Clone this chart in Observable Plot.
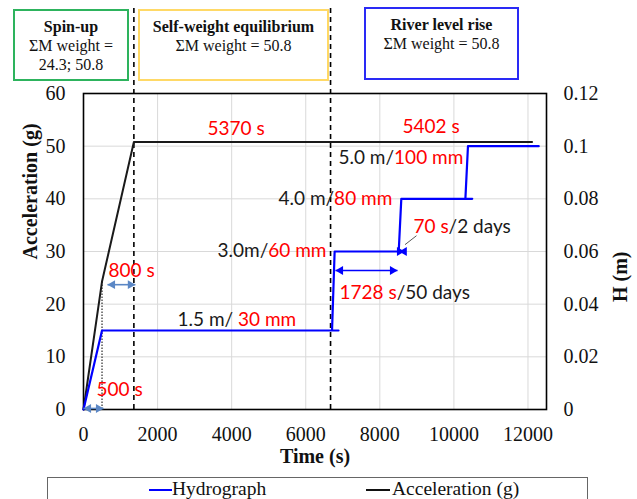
<!DOCTYPE html>
<html><head><meta charset="utf-8">
<script src="https://cdn.jsdelivr.net/npm/d3@7"></script>
<script src="https://cdn.jsdelivr.net/npm/@observablehq/plot@0.6"></script>
<style>
body{margin:0;background:#fff;}
#wrap{position:relative;width:637px;height:499px;overflow:hidden;font-family:"Liberation Serif","Times New Roman",serif;background:#fff;}
.box{position:absolute;box-sizing:border-box;text-align:center;font-size:16px;line-height:19px;padding-top:6px;color:#111;background:transparent;}
.box b{display:block;}
#legend{position:absolute;left:47px;top:477px;width:541px;height:40px;border:1px solid #666;box-sizing:border-box;font-size:19.5px;color:#111;}
.sw{position:absolute;top:11px;height:2px;}
.lt{position:absolute;top:0;line-height:22px;}
</style>
</head><body>
<div id="wrap">
  <div id="chart"></div>
  <div class="box" style="left:13px;top:9px;width:116px;height:72px;border:2px solid #2db35d;"><b>Spin-up</b>ΣM weight =<br>24.3; 50.8</div>
  <div class="box" style="left:138px;top:9px;width:191px;height:72px;border:2px solid #ffd966;"><b>Self-weight equilibrium</b>ΣM weight = 50.8</div>
  <div class="box" style="left:364px;top:7px;width:155px;height:73px;border:2px solid #2a2af5;"><b>River level rise</b>ΣM weight = 50.8</div>
  <div id="legend">
    <div class="sw" style="left:101px;width:23px;background:#0000ff;"></div>
    <div class="lt" style="left:124px;">Hydrograph</div>
    <div class="sw" style="left:318px;width:24px;background:#111;"></div>
    <div class="lt" style="left:344px;">Acceleration (g)</div>
  </div>
</div>
<script>
// ---- data ----
const accTime = [0, 500, 1360, 12110];
const accG    = [0, 24.3, 50.8, 50.8];
const hydTime = [0, 500, 6885, 6710, 6780, 8510, 8580, 10495, 10310, 10380, 12290];
const hydH    = [0, 0.03, 0.03, 0.03, 0.06, 0.06, 0.08, 0.08, 0.08, 0.1, 0.1];
const xTicks  = [0, 2000, 4000, 6000, 8000, 10000, 12000];
const yTicks  = [0, 10, 20, 30, 40, 50, 60];
const hTicks  = [0, 0.02, 0.04, 0.06, 0.08, 0.1, 0.12];
const phaseTimes = [1360, 6670];
const spinKink = {t: 500, g: 24.3};

// annotations (anchor in data units: time, acceleration-axis value)
const annotations = [
  {t: 3348, v: 53.35, parts: [["5370 s", "#ff0000"]]},
  {t: 8612, v: 53.7,  parts: [["5402 s", "#ff0000"]]},
  {t: 6884, v: 47.85, parts: [["5.0 m/", "#1a1a1a"], ["100 mm", "#ff0000"]]},
  {t: 5265, v: 40.06, parts: [["4.0 m/", "#1a1a1a"], ["80 mm", "#ff0000"]]},
  {t: 3618, v: 30.19, parts: [["3.0m/", "#1a1a1a"], ["60 mm", "#ff0000"]]},
  {t: 8909, v: 34.75, parts: [["70 s", "#ff0000"], ["/2 days", "#1a1a1a"]]},
  {t: 6911, v: 22.2,  parts: [["1728 s", "#ff0000"], ["/50 days", "#1a1a1a"]]},
  {t: 2538, v: 17.09, parts: [["1.5 m/ ", "#1a1a1a"], ["30 mm", "#ff0000"]]},
  {t: 675,  v: 26.4,  parts: [["800 s", "#ff0000"]]},
  {t: 351,  v: 3.8,   parts: [["500 s", "#ff0000"]]}
];
const arrows = [
  {x1: 0,    x2: 540,  v: 0.2,  color: "#5b87c5"},
  {x1: 648,  x2: 1400, v: 23.7, color: "#5b87c5"},
  {x1: 6803, x2: 8477, v: 26.4, color: "#0000ff"}
];
const stepHeads = [{t: 8531, v: 30, dir: 90}, {t: 8660, v: 30, dir: -90}];
const leader = [{x1: 8680, y1: 31.3, x2: 8990, y2: 33}];
const phaseTop = 76.7;

// ---- build ----
const hFactor = 60 / 0.12;
const acc = accTime.map((t, i) => ({t, g: accG[i]}));
const hyd = hydTime.map((t, i) => ({t, h: hydH[i]}));

const annFont = "19px Lato";
const ctx = document.createElement("canvas").getContext("2d");
ctx.font = annFont;
const annMarks = [];
annotations.forEach(a => {
  let off = 0;
  a.parts.forEach(([txt, col]) => {
    annMarks.push(Plot.text([a], {x: "t", y: "v", text: () => txt, fill: col, textAnchor: "start",
      dx: off, fontFamily: "Lato", fontSize: 19}));
    off += ctx.measureText(txt).width;
  });
});

const serif = '"Liberation Serif", "Times New Roman", serif';
const chart = Plot.plot({
  width: 637, height: 477,
  marginLeft: 83, marginRight: 91, marginTop: 93, marginBottom: 68,
  style: {fontFamily: serif, fontSize: "20px", color: "#111", background: "#fff", overflow: "visible"},
  x: {domain: [0, 12500]},
  y: {domain: [0, 60]},
  marks: [
    Plot.gridX(xTicks, {stroke: "#d9d9d9", strokeOpacity: 1}),
    Plot.gridY(yTicks, {stroke: "#d9d9d9", strokeOpacity: 1}),
    Plot.axisX(xTicks, {tickSize: 0, tickPadding: 17, label: null, fontSize: 20, tickFormat: d => String(d)}),
    Plot.axisY(yTicks, {anchor: "left", tickSize: 0, tickPadding: 18, label: null, fontSize: 20, tickFormat: d => String(d)}),
    Plot.axisY(yTicks, {anchor: "right", tickSize: 0, tickPadding: 17, label: null, fontSize: 20,
      tickFormat: d => String(hTicks[yTicks.indexOf(d)])}),
    Plot.frame({stroke: "#000", strokeWidth: 1.6}),
    Plot.ruleX(phaseTimes, {y1: 0, y2: phaseTop, stroke: "#000", strokeWidth: 1.6, strokeDasharray: "5,4"}),
    Plot.ruleX([spinKink], {x: "t", y1: 0, y2: "g", stroke: "#000", strokeWidth: 1, strokeDasharray: "1.5,1.5"}),
    Plot.line(acc, {x: "t", y: "g", stroke: "#1a1a1a", strokeWidth: 2}),
    Plot.line(hyd, {x: "t", y: d => d.h * hFactor, stroke: "#0000ff", strokeWidth: 2.2}),
    Plot.link(arrows, {x1: "x1", x2: "x2", y1: "v", y2: "v", stroke: "color", strokeWidth: 1.6}),
    Plot.dot(arrows, {x: "x2", y: "v", symbol: "triangle", r: 3.3, fill: "color", stroke: null, rotate: 90, dx: -5}),
    Plot.dot(arrows, {x: "x1", y: "v", symbol: "triangle", r: 3.3, fill: "color", stroke: null, rotate: -90, dx: 5}),
    Plot.dot(stepHeads, {x: "t", y: "v", symbol: "triangle", r: 3.3, fill: "#0000ff", stroke: null, rotate: "dir"}),
    Plot.link(leader, {x1: "x1", y1: "y1", x2: "x2", y2: "y2", stroke: "#595959", strokeWidth: 1}),
    ...annMarks,
    Plot.text(["Acceleration (g)"], {frameAnchor: "left", dx: -53, dy: 8, rotate: -90, fontWeight: "bold", fontSize: 20, fontFamily: serif, fill: "#111"}),
    Plot.text(["H (m)"], {frameAnchor: "right", dx: 74, rotate: -90, fontWeight: "bold", fontSize: 20, fontFamily: serif, fill: "#111"}),
    Plot.text(["Time (s)"], {frameAnchor: "bottom", dy: 53, fontWeight: "bold", fontSize: 20, fontFamily: serif, fill: "#111"})
  ]
});
document.getElementById("chart").appendChild(chart);
</script>
</body></html>
